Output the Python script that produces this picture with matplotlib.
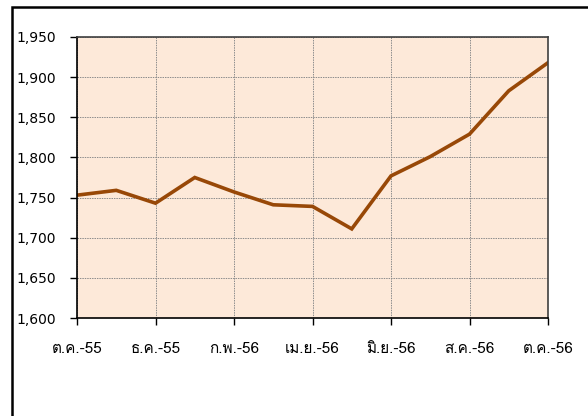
import numpy as np
import matplotlib
matplotlib.use("Agg")
import matplotlib.pyplot as plt
from matplotlib.ticker import FuncFormatter
from matplotlib.patches import Rectangle

months = ["ต.ค.-55", "พ.ย.-55", "ธ.ค.-55", "ม.ค.-56", "ก.พ.-56", "มี.ค.-56", "เม.ย.-56",
          "พ.ค.-56", "มิ.ย.-56", "ก.ค.-56", "ส.ค.-56", "ก.ย.-56", "ต.ค.-56"]
values = [1753, 1759, 1743, 1775, 1757, 1741, 1739, 1711, 1777, 1801, 1829, 1883, 1918]
yticks = np.arange(1600, 1951, 50)

plt.rcParams["font.family"] = ["DejaVu Sans", "Loma", "Noto Sans Thai Looped"]

fig = plt.figure(figsize=(5.88, 4.16), dpi=100)
ax = fig.add_axes([77/588, 1-318/416, (548-77)/588, (318-37)/416])
x = np.arange(len(months))
ax.plot(x, values, color="#984807", lw=2.6, solid_joinstyle="miter")
ax.set_facecolor("#FDE9D9")
ax.set_xlim(0, len(months)-1)
ax.set_ylim(1600, 1950)
ax.set_xticks(x[::2])
ax.set_xticklabels(months[::2], family=["Loma", "Noto Sans Thai Looped", "DejaVu Sans"], fontsize=11)
ax.set_yticks(yticks)
ax.yaxis.set_major_formatter(FuncFormatter(lambda v, p: f"{int(v):,}"))
ax.grid(True, color="#8c8c8c", ls=(0, (1.5, 1)), lw=0.7)
ax.tick_params(length=5, width=1, colors="black")
ax.tick_params(axis="y", pad=10, labelsize=10)
ax.tick_params(axis="x", pad=12)
for s in ax.spines.values():
    s.set_color("#404040")
    s.set_linewidth(1.2)
ax.spines["left"].set_color("black")
ax.spines["bottom"].set_color("black")

# outer chart frame (runs off the right and bottom edges)
fig.patches.append(Rectangle((12/588, -0.1), 1.0, 1.1-7/416, transform=fig.transFigure,
                             fill=False, ec="black", lw=1.8))

fig.savefig("out.png", dpi=100)
